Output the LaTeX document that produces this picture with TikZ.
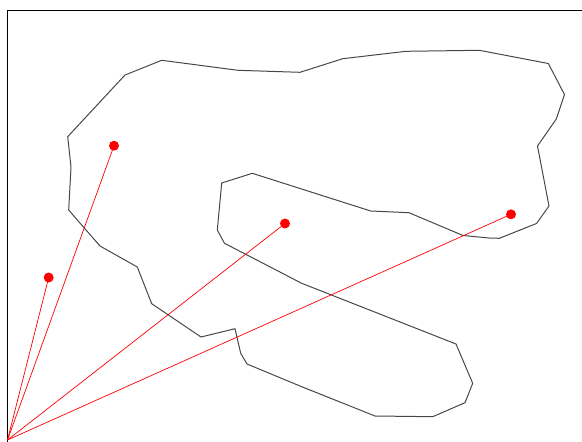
\documentclass[tikz,border=0pt]{standalone}
\begin{document}
\begin{tikzpicture}[x=0.03cm,y=-0.03cm,
  frame/.style={draw=black,line width=0.8pt},
  outline/.style={draw=black!72,line width=0.85pt,line join=round},
  ray/.style={draw=red,line width=0.6pt},
  dot/.style={circle,fill=red,inner sep=0pt,minimum size=8.5pt}]
\useasboundingbox (0,0) rectangle (582,441);
\draw[frame] (590,10) -- (7.3,10) -- (7.3,450);
\draw[outline] (161.7,60.3) -- (238,70.3) -- (300,72.3) -- (342.7,58.7) -- (406,51.3) -- (479.3,50.3) -- (548.3,63.5) -- (564.5,94.5) -- (556.3,119) -- (537.5,146) -- (549,206) -- (536.5,223.5) -- (499.3,238.3) -- (489,238) -- (463,235.5) -- (409,212.7) -- (370.7,211) -- (252.3,173.3) -- (221.7,183) -- (217.3,230) -- (224.5,243.3) -- (301.7,283.3) -- (456,344) -- (472.7,383.3) -- (465,402.7) -- (432.7,416.7) -- (375,416) -- (301.7,386.7) -- (247,364) -- (240.7,353.3) -- (235,328.7) -- (201,337) -- (151.7,303.7) -- (137.3,267) -- (100,246) -- (77.3,220) -- (68.7,210) -- (71,167) -- (67.7,136.7) -- (125,75) -- cycle;
\coordinate (o) at (7.5,440);
\node[dot] (p1) at (114,145.7) {};
\node[dot] (p2) at (48.7,277.5) {};
\node[dot] (p3) at (285,223.5) {};
\node[dot] (p4) at (511,214.3) {};
\draw[ray] (o) -- (p1.center);
\draw[ray] (o) -- (p2.center);
\draw[ray] (o) -- (p3.center);
\draw[ray] (o) -- (p4.center);
\end{tikzpicture}
\end{document}
